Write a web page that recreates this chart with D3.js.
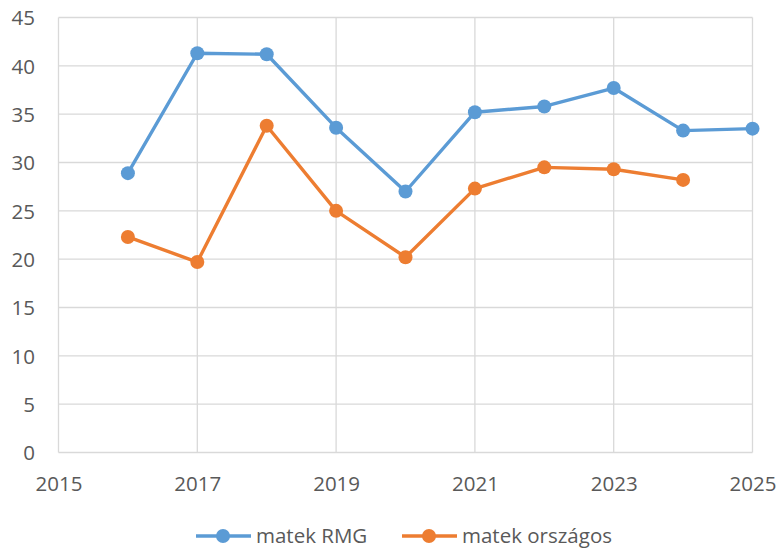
<!DOCTYPE html>
<html><head><meta charset="utf-8">
<script src="https://cdn.jsdelivr.net/npm/d3@7"></script>
<style>body{margin:0;background:#fff}svg{display:block}text{font-family:"Open Sans",sans-serif;fill:#595959}</style>
</head><body><svg id="c" width="780" height="551"></svg>
<script>
const years = [2016,2017,2018,2019,2020,2021,2022,2023,2024,2025];
const rmg = [28.9,41.3,41.2,33.6,27.0,35.2,35.8,37.7,33.3,33.5];
const orszagos = [22.3,19.7,33.8,25.0,20.2,27.3,29.5,29.3,28.2,null];
const seriesNames = ["matek RMG","matek országos"];
const colors = ["#5B9BD5","#ED7D31"];
const xTicks = [2015,2017,2019,2021,2023,2025];
const yTicks = [0,5,10,15,20,25,30,35,40,45];

const FS = 20.5;
const svg = d3.select("#c");
const L=58.5,R=752.5,T=17.5,B=452.5;
const x = d3.scaleLinear().domain([2015,2025]).range([L,R]);
const y = d3.scaleLinear().domain([0,45]).range([B,T]);

const g = svg.append("g");
g.selectAll(".hg").data(yTicks).join("line")
 .attr("x1",L).attr("x2",R).attr("y1",d=>y(d)).attr("y2",d=>y(d))
 .attr("stroke","#d9d9d9").attr("stroke-width",1.3);
g.selectAll(".vg").data(xTicks).join("line")
 .attr("y1",T).attr("y2",B).attr("x1",d=>x(d)).attr("x2",d=>x(d))
 .attr("stroke","#d9d9d9").attr("stroke-width",1.3);

const yAx = svg.append("g").attr("transform",`translate(${L},0)`)
 .call(d3.axisLeft(y).tickValues(yTicks).tickSize(0).tickPadding(23.5));
yAx.select(".domain").remove();
yAx.selectAll("text").attr("font-size",FS).style("font-family",'"Open Sans",sans-serif').attr("fill","#595959").attr("dy","0.36em");
const xAx = svg.append("g").attr("transform",`translate(0,${B})`)
 .call(d3.axisBottom(x).tickValues(xTicks).tickFormat(d3.format("d")).tickSize(0).tickPadding(24));
xAx.select(".domain").remove();
xAx.selectAll("text").attr("font-size",FS).style("font-family",'"Open Sans",sans-serif').attr("fill","#595959");

const data = [rmg, orszagos];
data.forEach((vals,i)=>{
  const pts = years.map((yr,j)=>({x:yr,v:vals[j]})).filter(d=>d.v!=null);
  svg.append("path").datum(pts)
   .attr("d",d3.line().x(d=>x(d.x)).y(d=>y(d.v)))
   .attr("fill","none").attr("stroke",colors[i]).attr("stroke-width",3.4).attr("stroke-linejoin","round");
  svg.selectAll(".m"+i).data(pts).join("circle")
   .attr("cx",d=>x(d.x)).attr("cy",d=>y(d.v)).attr("r",7).attr("fill",colors[i]);
});

const leg = [196,402];
seriesNames.forEach((n,i)=>{
  const lx = leg[i], ly = 536;
  svg.append("line").attr("x1",lx).attr("x2",lx+55).attr("y1",ly).attr("y2",ly)
   .attr("stroke",colors[i]).attr("stroke-width",3.4);
  svg.append("circle").attr("cx",lx+27).attr("cy",ly).attr("r",7).attr("fill",colors[i]);
  svg.append("text").attr("x",lx+60).attr("y",ly).attr("dy","0.36em").attr("font-size",FS).text(n);
});
</script></body></html>
